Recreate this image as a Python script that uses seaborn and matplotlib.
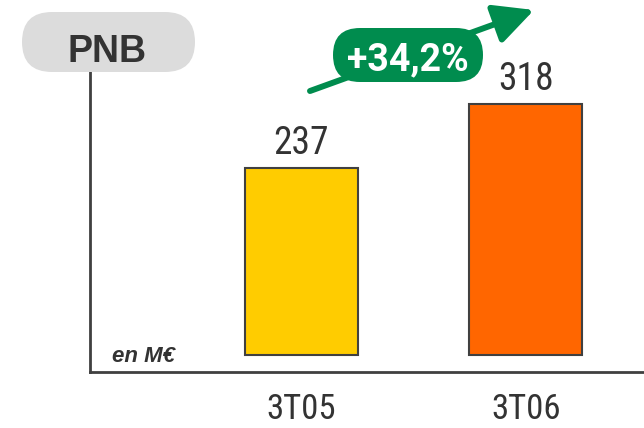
import matplotlib
matplotlib.use("Agg")
import matplotlib.pyplot as plt
from matplotlib.patches import FancyBboxPatch, FancyArrowPatch
import seaborn as sns
import pandas as pd

# data
periods = ["3T05", "3T06"]
pnb = [237, 318]
bar_colors = ["#FFCC00", "#FF6600"]
growth_label = "+34,2%"
title = "PNB"
unit = "en M€"

sns.set_style("white")
plt.rcParams['font.family'] = ['Roboto Condensed', 'DejaVu Sans']

dark = "#333333"
green = "#008C4E"
bold_font = ["Liberation Sans", "DejaVu Sans"]

df = pd.DataFrame({"period": periods, "pnb": pnb})

fig = plt.figure(figsize=(6.44, 4.28), dpi=100)
W, H = 644, 428
# main axes: left=90px, right=644px, bottom=372px, top=60px
ax = fig.add_axes([90 / W, (H - 372) / H, (644 - 90) / W, (372 - 60) / H])

sns.barplot(data=df, x="period", y="pnb", hue="period", palette=bar_colors,
            saturation=1, width=0.503, edgecolor="#404040", linewidth=1.5,
            legend=False, ax=ax)

ax.set_xlim(-0.942, 1.526)
ax.set_ylim(-21.5, 373.4)
ax.set_xlabel("")
ax.set_ylabel("")
ax.set_yticks([])
ax.tick_params(axis="x", length=0, pad=15, labelsize=25, labelcolor=dark)
for s in ["top", "right"]:
    ax.spines[s].set_visible(False)
for s in ["left", "bottom"]:
    ax.spines[s].set_color("#404040")
    ax.spines[s].set_linewidth(2)

for i, v in enumerate(pnb):
    ax.text(i, v + 17, str(v), ha="center", va="baseline", fontsize=27, color=dark)

# overlay in pixel coordinates for decorations
ov = fig.add_axes([0, 0, 1, 1], facecolor="none")
ov.set_xlim(0, W)
ov.set_ylim(H, 0)
ov.axis("off")

# PNB pill
ov.add_patch(FancyBboxPatch((22, 12), 173, 60, boxstyle="round,pad=0,rounding_size=30",
                            facecolor="#DCDCDC", edgecolor="none"))
ov.text(107, 62, title, ha="center", va="baseline", fontsize=27, fontweight="bold",
        color=dark, family=bold_font)

# unit label
ov.text(112, 362, unit, ha="left", va="baseline", fontsize=16, fontweight="bold",
        fontstyle="italic", color=dark, family=bold_font)

# growth arrow
ov.add_patch(FancyArrowPatch((310, 91), (534, 10),
                             arrowstyle="-|>,head_length=1.1,head_width=0.55",
                             mutation_scale=22, lw=4.3, color=green,
                             shrinkA=0, shrinkB=0))
ov.add_patch(FancyBboxPatch((333, 28), 150, 54, boxstyle="round,pad=0,rounding_size=27",
                            facecolor=green, edgecolor="none"))
ov.text(408, 70, growth_label, ha="center", va="baseline", fontsize=27, fontweight="bold",
        color="white", family=["Roboto", "DejaVu Sans"])

fig.savefig("out.png", dpi=100)
